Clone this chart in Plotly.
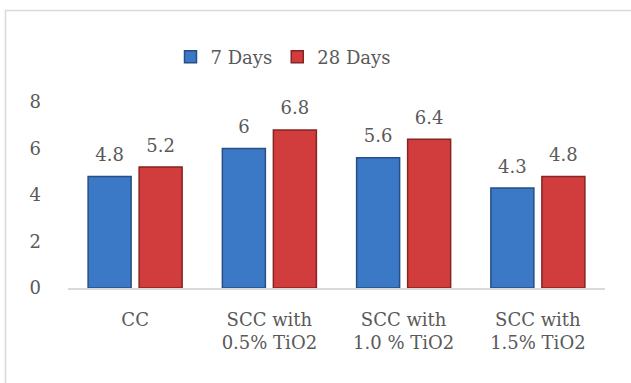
import plotly.graph_objects as go

categories = ["CC", "SCC with<br>0.5% TiO2", "SCC with<br>1.0 % TiO2", "SCC with<br>1.5% TiO2"]
days7 = [4.8, 6.0, 5.6, 4.3]
days28 = [5.2, 6.8, 6.4, 4.8]
labels7 = ["4.8", "6", "5.6", "4.3"]
labels28 = ["5.2", "6.8", "6.4", "4.8"]
y_ticks = [0, 2, 4, 6, 8]

FONT = "DejaVu Serif"
GRAY = "#595959"
SIZE = 18

fig = go.Figure()
fig.add_trace(go.Bar(
    x=categories, y=days7, name="7 Days", offsetgroup="a",
    marker=dict(color="#3b79c6", line=dict(color="#264f85", width=1.5)),
))
fig.add_trace(go.Bar(
    x=categories, y=days28, name="28 Days", offsetgroup="b",
    marker=dict(color="#d13c3c", line=dict(color="#862323", width=1.5)),
))
for vals, labs, grp in [(days7, labels7, "a"), (days28, labels28, "b")]:
    fig.add_trace(go.Scatter(
        x=categories, y=vals, text=labs, mode="text+markers", offsetgroup=grp,
        textposition="top center", showlegend=False, cliponaxis=False,
        hoverinfo="skip",
        marker=dict(size=16, opacity=0),
        textfont=dict(family=FONT, size=SIZE, color=GRAY),
    ))

W, H = 631, 383
L, R, T, B = 68, 26, 102, 95
pw, ph = W - L - R, H - T - B

def px(x):
    return (x - L) / pw

def py(y):
    return (H - B - y) / ph

fig.update_layout(
    width=W, height=H,
    margin=dict(l=L, r=R, t=T, b=B),
    paper_bgcolor="white", plot_bgcolor="white",
    barmode="group", bargap=0.24, bargroupgap=0.157,
    scattermode="group", scattergap=0.24,
    font=dict(family=FONT, size=SIZE, color=GRAY),
    showlegend=True,
    legend=dict(orientation="h", x=px(283), xanchor="center", y=py(57), yanchor="middle",
                font=dict(family=FONT, size=SIZE, color=GRAY),
                itemwidth=30, traceorder="normal", bgcolor="rgba(0,0,0,0)"),
    xaxis=dict(showline=True, linecolor="#d9d9d9", linewidth=2, showgrid=False,
               ticks="", ticklabelstandoff=14,
               tickfont=dict(family=FONT, size=SIZE, color=GRAY)),
    yaxis=dict(range=[0, 8], tickvals=y_ticks, showgrid=False, zeroline=False,
               showline=False, ticks="", ticklabelstandoff=26,
               tickfont=dict(family=FONT, size=SIZE, color=GRAY)),
    shapes=[dict(type="rect", xref="paper", yref="paper",
                 x0=px(5.5), x1=px(700), y0=py(10.5), y1=py(450),
                 line=dict(color="#d9d9d9", width=1.5), fillcolor="rgba(0,0,0,0)", layer="below")],
)

fig.write_html("out.html", config={"displayModeBar": False},
               post_script="document.body.style.margin='0';")
